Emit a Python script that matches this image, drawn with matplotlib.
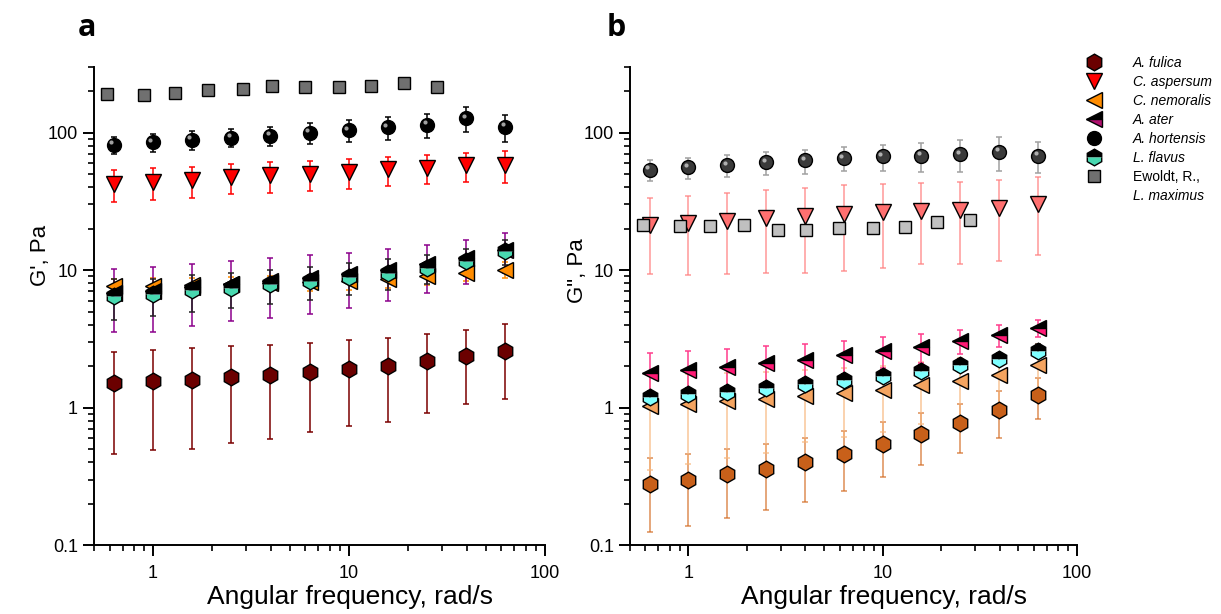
import matplotlib
matplotlib.use("Agg")
import matplotlib.pyplot as plt
from matplotlib.lines import Line2D
from matplotlib.ticker import LogLocator, FormatStrFormatter, NullFormatter
from matplotlib.transforms import offset_copy

plt.rcParams['font.family'] = ['Liberation Sans', 'DejaVu Sans']

# angular frequency, rad/s
freq = [0.63, 1.0, 1.58, 2.51, 3.98, 6.31, 10.0, 15.8, 25.1, 39.8, 63.1]
freq_ewoldt = [0.58, 0.9, 1.29, 1.92, 2.88, 4.05, 5.95, 8.9, 13.0, 19.1, 28.1]

# G' (panel a)
fulica_g1 = [1.50, 1.55, 1.60, 1.67, 1.73, 1.82, 1.91, 2.01, 2.18, 2.38, 2.59]
fulica_g1_err = [1.04, 1.06, 1.10, 1.12, 1.14, 1.15, 1.17, 1.22, 1.27, 1.32, 1.44]
aspersum_g1 = [42.2, 43.6, 44.9, 47.2, 48.8, 50.2, 51.5, 53.9, 55.7, 57.7, 58.3]
aspersum_g1_err = [10.8, 11.2, 11.5, 11.6, 12.2, 12.3, 12.3, 13.0, 13.4, 13.7, 15.4]
nemoralis_g1 = [7.65, 7.7, 7.8, 7.9, 8.0, 8.15, 8.3, 8.56, 9.05, 9.55, 10.1]
nemoralis_g1_err = [1.0, 1.0, 1.0, 1.0, 1.0, 1.1, 1.1, 1.1, 1.2, 1.2, 1.3]
ater_g1 = [6.85, 7.05, 7.53, 7.96, 8.32, 8.8, 9.3, 10.1, 11.0, 12.2, 14.1]
ater_g1_err = [3.33, 3.48, 3.62, 3.7, 3.86, 4.0, 4.0, 4.17, 4.2, 4.27, 4.5]
hortensis_g1 = [81.5, 85, 88.5, 92, 95, 100, 104, 109, 114, 127, 110]
hortensis_g1_err = [12, 12.5, 13.5, 14, 15, 17, 18.5, 20, 22, 26, 24]
flavus_g1 = [6.48, 6.67, 7.12, 7.45, 7.87, 8.32, 8.9, 9.55, 10.4, 11.6, 13.7]
flavus_g1_err = [2.15, 2.0, 2.15, 2.15, 2.2, 2.3, 2.3, 2.4, 2.5, 2.6, 2.8]
ewoldt_g1 = [191, 187, 195, 203, 208, 217, 213, 213, 218, 229, 213]

# G'' (panel b)
fulica_g2 = [0.277, 0.299, 0.327, 0.360, 0.404, 0.462, 0.546, 0.644, 0.770, 0.962, 1.24]
fulica_g2_err = [0.153, 0.16, 0.17, 0.18, 0.197, 0.214, 0.235, 0.264, 0.30, 0.358, 0.41]
aspersum_g2 = [21.4, 22.0, 22.9, 23.9, 24.6, 25.6, 26.3, 27.1, 27.5, 28.3, 30.2]
aspersum_g2_err = [12, 12.8, 13.5, 14.4, 15.1, 15.7, 16, 16, 16.4, 16.7, 17.4]
nemoralis_g2 = [1.03, 1.07, 1.11, 1.15, 1.22, 1.27, 1.34, 1.46, 1.57, 1.73, 2.05]
nemoralis_g2_err = [0.68, 0.68, 0.68, 0.68, 0.66, 0.66, 0.68, 0.7, 0.72, 0.75, 0.8]
ater_g2 = [1.80, 1.88, 1.98, 2.10, 2.22, 2.42, 2.59, 2.77, 3.06, 3.38, 3.82]
ater_g2_err = [0.7, 0.7, 0.7, 0.7, 0.7, 0.65, 0.65, 0.65, 0.6, 0.6, 0.55]
hortensis_g2 = [53.7, 55.8, 58.0, 60.6, 62.7, 65.2, 67.0, 68.1, 69.7, 72.8, 68.1]
hortensis_g2_err = [9, 9.5, 10.5, 11.5, 12.5, 13, 14.5, 16.5, 18, 20.5, 17.5]
flavus_g2 = [1.20, 1.26, 1.31, 1.39, 1.49, 1.59, 1.71, 1.85, 2.05, 2.26, 2.59]
flavus_g2_err = [0.12, 0.12, 0.13, 0.14, 0.15, 0.16, 0.18, 0.2, 0.22, 0.25, 0.3]
ewoldt_g2 = [21.2, 21.0, 21.0, 21.4, 19.5, 19.5, 20.4, 20.4, 20.7, 22.2, 23.0]

labels = ["A. fulica", "C. aspersum", "C. nemoralis", "A. ater",
          "A. hortensis", "L. flavus", "Ewoldt, R.,", "L. maximus"]


def series(ax, x, y, err, marker, ms, face, ecolor, alt=None, label=None, ealpha=1.0):
    # error bars first so that every marker sits on top of them
    if err is not None:
        ax.errorbar(x, y, yerr=err, fmt='none', ecolor=ecolor, elinewidth=1.1,
                    capsize=2.5, capthick=1.1, alpha=ealpha, zorder=2)
    kw = dict(linestyle='none', marker=marker, ms=ms, mfc=face, mec='black',
              mew=1.0, zorder=3, label=label)
    if alt is not None:
        kw.update(fillstyle='top', mfcalt=alt)
    line, = ax.plot(x, y, **kw)
    return line


def sphere(ax, fig, x, y, err, face, shine, ecolor, label=None):
    line = series(ax, x, y, err, 'o', 10, face, ecolor, label=label)
    tr = offset_copy(ax.transData, fig=fig, x=-2.5, y=2.5, units='dots')
    ax.plot(x, y, linestyle='none', marker='o', ms=3, mfc=shine, mec='none',
            transform=tr, zorder=4)
    return line


def style_axis(ax, ylabel, ylab_y):
    ax.set_xscale('log')
    ax.set_yscale('log')
    ax.set_xlim(0.5, 100)
    ax.set_ylim(0.1, 300)
    for s in ['top', 'right']:
        ax.spines[s].set_visible(False)
    for s in ['left', 'bottom']:
        ax.spines[s].set_linewidth(1.4)
    ax.xaxis.set_major_locator(LogLocator(base=10, numticks=10))
    ax.xaxis.set_minor_locator(LogLocator(base=10, subs=range(2, 10), numticks=20))
    ax.yaxis.set_major_locator(LogLocator(base=10, numticks=10))
    ax.yaxis.set_minor_locator(LogLocator(base=10, subs=range(2, 10), numticks=20))
    ax.xaxis.set_major_formatter(FormatStrFormatter('%g'))
    ax.yaxis.set_major_formatter(FormatStrFormatter('%g'))
    ax.xaxis.set_minor_formatter(NullFormatter())
    ax.yaxis.set_minor_formatter(NullFormatter())
    ax.tick_params(which='major', direction='out', length=8, width=1.4, labelsize=13)
    ax.tick_params(which='minor', direction='out', length=4.5, width=1.2)
    ax.tick_params(axis='x', which='major', pad=6)
    ax.set_xlabel('Angular frequency, rad/s', fontsize=19)
    ax.xaxis.set_label_coords(0.568, -0.084)
    ax.set_ylabel(ylabel, fontsize=16)
    ax.yaxis.set_label_coords(-0.095, ylab_y)


fig = plt.figure(figsize=(12.21, 6.14), dpi=100)
ax1 = fig.add_axes([0.077, 0.112, 0.369, 0.779])
ax2 = fig.add_axes([0.516, 0.112, 0.366, 0.779])

# panel a, G'
h = []
h.append(series(ax1, freq, fulica_g1, fulica_g1_err, 'h', 12, '#6B0000', '#7A0000', label=labels[0]))
h.append(series(ax1, freq, aspersum_g1, aspersum_g1_err, 'v', 12, '#FF0000', '#FF0000', label=labels[1]))
h.append(series(ax1, freq, nemoralis_g1, nemoralis_g1_err, '<', 12, '#FF8C00', '#FF8C00', label=labels[2]))
h.append(series(ax1, freq, ater_g1, ater_g1_err, '<', 12, 'black', '#8B008B', alt='#B0106E', label=labels[3]))
h.append(sphere(ax1, fig, freq, hortensis_g1, hortensis_g1_err, 'black', '#A0A0A0', 'black', label=labels[4]))
h.append(series(ax1, freq, flavus_g1, flavus_g1_err, 'h', 12, 'black', '#222222', alt='#48D8B0', label=labels[5]))
h.append(series(ax1, freq_ewoldt, ewoldt_g1, None, 's', 8.5, '#707070', None, label=labels[6]))
# second line of the Ewoldt entry, no marker
h.append(Line2D([], [], linestyle='none', marker=None))

# panel b, G''
series(ax2, freq, fulica_g2, fulica_g2_err, 'h', 12, '#C8601A', '#D2691E', ealpha=0.75)
series(ax2, freq, aspersum_g2, aspersum_g2_err, 'v', 12, '#FF7070', '#FF8080', ealpha=0.8)
series(ax2, freq, nemoralis_g2, nemoralis_g2_err, '<', 12, '#F4A460', '#F8B880', ealpha=0.8)
series(ax2, freq, ater_g2, ater_g2_err, '<', 12, 'black', '#FF3C8C', alt='#FF1A75')
sphere(ax2, fig, freq, hortensis_g2, hortensis_g2_err, '#3A3A3A', '#B0B0B0', '#A0A0A0')
series(ax2, freq, flavus_g2, flavus_g2_err, 'h', 12, 'black', '#5A3A2A', alt='#7FFFFF')
series(ax2, freq_ewoldt, ewoldt_g2, None, 's', 8.5, '#C0C0C0', None)

style_axis(ax1, "G', Pa", 0.605)
style_axis(ax2, 'G", Pa', 0.575)

fig.text(0.064, 0.955, 'a', fontsize=22, fontweight='bold', family='Open Sans', va='center')
fig.text(0.497, 0.955, 'b', fontsize=22, fontweight='bold', family='Open Sans', va='center')

leg = fig.legend(handles=h, labels=labels, loc='upper left', bbox_to_anchor=(0.887, 0.918),
                 frameon=False, fontsize=10, handlelength=0.8, handletextpad=2.4,
                 labelspacing=0.36, borderaxespad=0)
for i, t in enumerate(leg.get_texts()):
    if i != 6:
        t.set_style('italic')

fig.savefig('out.png', dpi=100)
